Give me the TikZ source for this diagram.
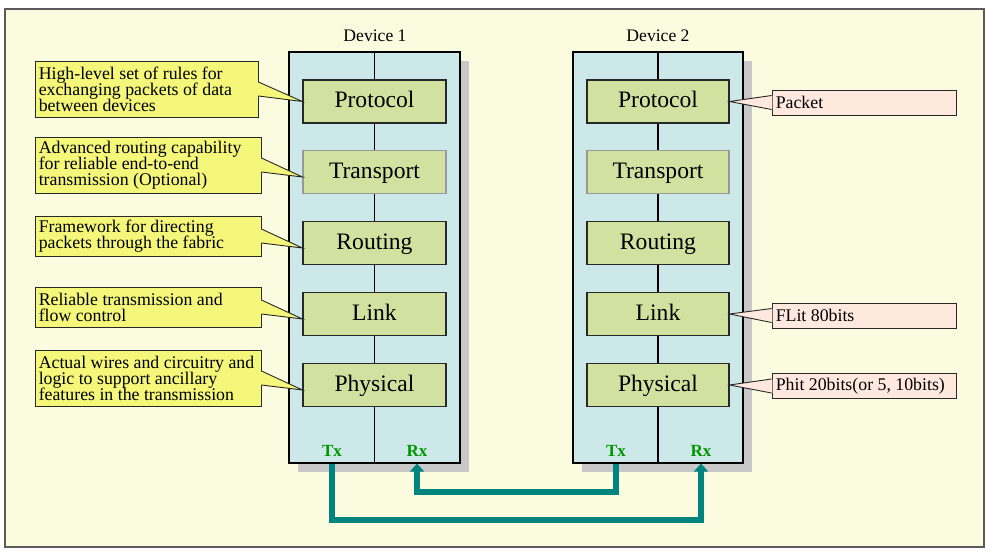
\documentclass[tikz,border=0pt]{standalone}
\usepackage{fontspec}
\setmainfont{Liberation Serif}
\usetikzlibrary{arrows.meta,calc,shadows}
\definecolor{bgyel}{RGB}{251,252,223}
\definecolor{framec}{RGB}{90,90,90}
\definecolor{devc}{RGB}{204,232,232}
\definecolor{layerc}{RGB}{209,225,160}
\definecolor{yelc}{RGB}{245,247,122}
\definecolor{pinkc}{RGB}{255,232,222}
\definecolor{shadc}{RGB}{200,200,200}
\definecolor{tealc}{RGB}{0,133,126}
\definecolor{txc}{RGB}{0,150,0}
\definecolor{edgec}{RGB}{40,40,40}
\newcommand\mytightlines{\lineskiplimit=-100pt\relax\lineskip=0pt\relax}
\begin{document}
\begin{tikzpicture}[x=1pt,y=-1pt,
  framebox/.style={draw=framec,line width=1.3pt,fill=bgyel,minimum width=979pt,minimum height=538pt,inner sep=0pt},
  devbox/.style={draw=black,line width=1.2pt,fill=devc,minimum width=171pt,minimum height=411pt,inner sep=0pt,
    drop shadow={opacity=1,fill=shadc,shadow xshift=8.5pt,shadow yshift=-8.5pt}},
  layer/.style={draw=edgec,line width=1.1pt,fill=layerc,minimum width=143pt,minimum height=43pt,inner sep=0pt,
    font=\fontsize{23.6}{26}\selectfont,text height=16pt,text depth=4pt},
  layerlight/.style={layer,draw=black!40},
  devlabel/.style={inner sep=0pt,font=\fontsize{17.6}{20}\selectfont},
  txrx/.style={inner sep=0pt,text=txc,font=\fontsize{17}{19}\selectfont\bfseries},
  ybox/.style={draw=edgec,line width=0.9pt,fill=yelc,inner sep=0pt},
  pbox/.style={draw=edgec,line width=0.9pt,fill=pinkc,inner sep=0pt,minimum width=184pt,minimum height=25pt},
  ctext/.style={inner sep=0pt,align=left,anchor=west,font=\fontsize{17.8}{16}\selectfont\mytightlines},
  wire/.style={draw=tealc,line width=6pt},
  wedgeline/.style={draw=edgec,line width=0.9pt},
]
\useasboundingbox (0,0) rectangle (996,552);
\node[framebox] (frame) at (494.5,278) {};

% devices
\node[devbox] (dev1) at (374.5,257.5) {};
\node[devbox,minimum width=170pt] (dev2) at (658,257.5) {};
\draw[line width=1.1pt] (dev1.north) -- (dev1.south);
\draw[line width=1.1pt] (dev2.north) -- (dev2.south);
\node[devlabel] (d1lab) at (375,36) {Device 1};
\node[devlabel] (d2lab) at (658,36) {Device 2};

% layers device 1
\node[layer] (a1) at (374.5,101.5) {Protocol};
\node[layerlight] (a2) at (374.5,172) {Transport};
\node[layer] (a3) at (374.5,243) {Routing};
\node[layer] (a4) at (374.5,314) {Link};
\node[layer] (a5) at (374.5,385) {Physical};
% layers device 2
\node[layer,minimum width=142pt] (b1) at (658,101.5) {Protocol};
\node[layerlight,minimum width=142pt] (b2) at (658,172) {Transport};
\node[layer,minimum width=142pt] (b3) at (658,243) {Routing};
\node[layer,minimum width=142pt] (b4) at (658,314) {Link};
\node[layer,minimum width=142pt] (b5) at (658,385) {Physical};

% Tx / Rx
\node[txrx] (tx1) at (332,451) {Tx};
\node[txrx] (rx1) at (417,451) {Rx};
\node[txrx] (tx2) at (616,451) {Tx};
\node[txrx] (rx2) at (701,451) {Rx};

% wires
\draw[wire,-{Triangle[width=14pt,length=8pt]}] (tx1 |- dev1.south) -- ++(0,56) -| (rx2 |- dev2.south);
\draw[wire,-{Triangle[width=14pt,length=8pt]}] (tx2 |- dev2.south) -- ++(0,28) -| (rx1 |- dev1.south);

% yellow callouts
\node[ybox,minimum width=223pt,minimum height=56pt] (c1) at (146.5,89) {};
\node[ybox,minimum width=226pt,minimum height=56pt] (c2) at (148,165) {};
\node[ybox,minimum width=226pt,minimum height=40pt] (c3) at (148,236) {};
\node[ybox,minimum width=226pt,minimum height=40pt] (c4) at (148,307) {};
\node[ybox,minimum width=226pt,minimum height=56pt] (c5) at (148,378) {};
\foreach \c/\l/\dy in {c1/a1/0,c2/a2/5,c3/a3/5,c4/a4/5,c5/a5/5}{
  \fill[yelc] ($(\c.east)+(-0.8,-7)$) -- ($(\l.west)+(0,\dy)$) -- ($(\c.east)+(-0.8,7)$) -- cycle;
  \draw[wedgeline] ($(\c.east)+(0,-7)$) -- ($(\l.west)+(0,\dy)$) -- ($(\c.east)+(0,7)$);
}
\node[ctext] (t1) at ($(c1.west)+(4,0)$) {High-level set of rules for\\exchanging packets of data\\between devices};
\node[ctext] (t2) at ($(c2.west)+(4,0)$) {Advanced routing capability\\for reliable end-to-end\\transmission (Optional)};
\node[ctext] (t3) at ($(c3.west)+(4,0)$) {Framework for directing\\packets through the fabric};
\node[ctext] (t4) at ($(c4.west)+(4,0)$) {Reliable transmission and\\flow control};
\node[ctext] (t5) at ($(c5.west)+(4,0)$) {Actual wires and circuitry and\\logic to support ancillary\\features in the transmission};

% pink callouts
\node[pbox] (k1) at (864,102.5) {};
\node[pbox] (k2) at (864,315.5) {};
\node[pbox] (k3) at (864,386) {};
\foreach \k/\l in {k1/b1,k2/b4,k3/b5}{
  \fill[pinkc] ($(\k.west)+(0.8,-7)$) -- (\l.east) -- ($(\k.west)+(0.8,7)$) -- cycle;
  \draw[wedgeline] ($(\k.west)+(0,-7)$) -- (\l.east) -- ($(\k.west)+(0,7)$);
}
\node[ctext] (u1) at ($(k1.west)+(4,0)$) {Packet};
\node[ctext] (u2) at ($(k2.west)+(4,0)$) {FLit 80bits};
\node[ctext] (u3) at ($(k3.west)+(4,0)$) {Phit 20bits(or 5, 10bits)};
\end{tikzpicture}
\end{document}
